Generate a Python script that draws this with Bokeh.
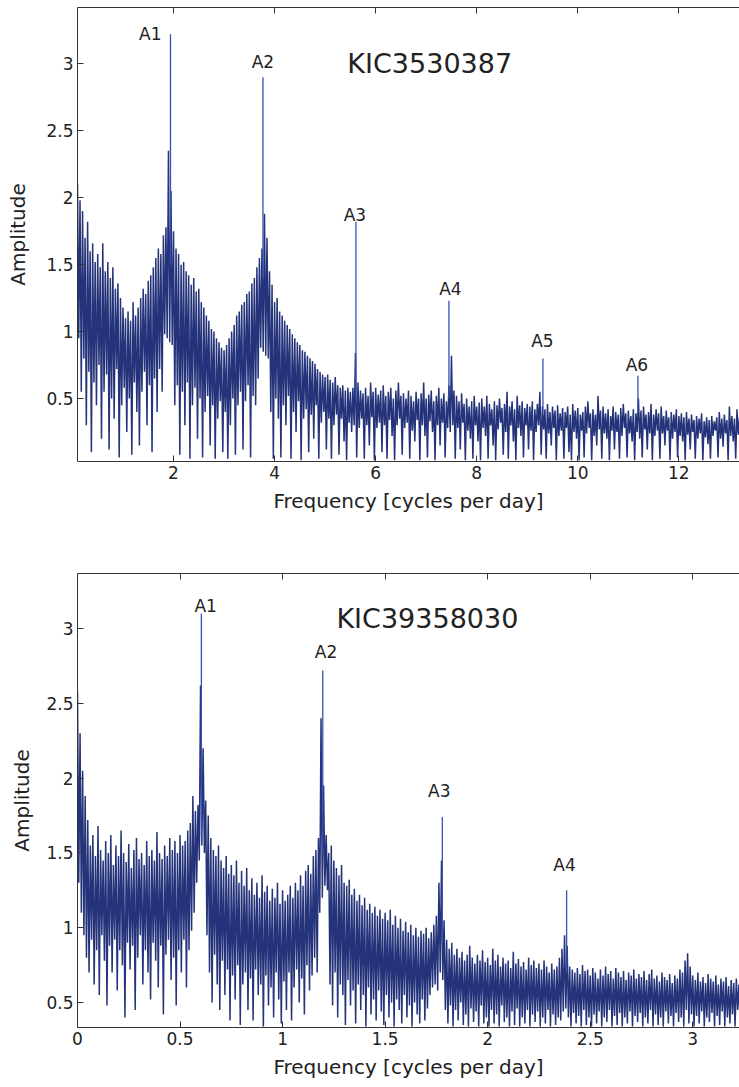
from bokeh.plotting import figure
from bokeh.models import (LinearAxis, Range1d, FixedTicker, Label,
                          NumeralTickFormatter, CustomJSTickFormatter)
from bokeh.layouts import column
from bokeh.embed import file_html
from bokeh.resources import INLINE

# ---------------- Panel 1 : KIC3530387 ----------------
p1_title = "KIC3530387"
p1_f0 = 0.10         # first frequency of the sampled grid (cycles/day)
p1_step = 0.05       # grid spacing; each step holds one high and one low sample
p1_hi = [2.10, 1.98, 1.90, 1.70, 1.82, 1.60, 1.66, 1.52, 1.58, 1.48,
         1.66, 1.45, 1.52, 1.40, 1.48, 1.32, 1.36, 1.25, 1.18, 1.10,
         1.15, 1.08, 1.22, 1.12, 1.18, 1.25, 1.32, 1.28, 1.38, 1.42,
         1.48, 1.55, 1.62, 1.58, 1.72, 1.78, 2.35, 2.05, 1.75, 1.62,
         1.58, 1.50, 1.52, 1.45, 1.42, 1.35, 1.40, 1.30, 1.32, 1.22,
         1.18, 1.12, 1.08, 1.02, 1.00, 0.95, 0.92, 0.88, 0.86, 0.90,
         0.95, 1.00, 1.05, 1.12, 1.15, 1.20, 1.22, 1.28, 1.30, 1.36,
         1.40, 1.48, 1.55, 1.62, 1.88, 1.70, 1.45, 1.35, 1.22, 1.25,
         1.15, 1.12, 1.08, 1.05, 1.02, 0.98, 0.95, 0.92, 0.90, 0.86,
         0.85, 0.82, 0.80, 0.78, 0.76, 0.72, 0.70, 0.68, 0.66, 0.68,
         0.64, 0.62, 0.66, 0.60, 0.58, 0.60, 0.56, 0.58, 0.55, 0.58,
         0.84, 0.62, 0.56, 0.54, 0.58, 0.52, 0.62, 0.55, 0.58, 0.53,
         0.56, 0.60, 0.52, 0.55, 0.58, 0.50, 0.56, 0.62, 0.52, 0.54,
         0.50, 0.56, 0.52, 0.48, 0.55, 0.50, 0.54, 0.62, 0.50, 0.53,
         0.56, 0.48, 0.52, 0.58, 0.50, 0.54, 0.48, 0.60, 0.82, 0.56,
         0.52, 0.48, 0.54, 0.46, 0.50, 0.44, 0.48, 0.52, 0.44, 0.47,
         0.50, 0.44, 0.52, 0.46, 0.42, 0.48, 0.45, 0.50, 0.43, 0.46,
         0.55, 0.44, 0.48, 0.42, 0.52, 0.45, 0.48, 0.43, 0.46, 0.44,
         0.48, 0.42, 0.46, 0.55, 0.44, 0.42, 0.46, 0.40, 0.44, 0.41,
         0.45, 0.39, 0.43, 0.40, 0.44, 0.38, 0.46, 0.41, 0.43, 0.38,
         0.40, 0.44, 0.48, 0.39, 0.42, 0.38, 0.52, 0.41, 0.44, 0.39,
         0.42, 0.37, 0.44, 0.40, 0.38, 0.43, 0.46, 0.39, 0.41, 0.37,
         0.42, 0.39, 0.50, 0.41, 0.44, 0.38, 0.40, 0.46, 0.38, 0.42,
         0.39, 0.44, 0.37, 0.41, 0.36, 0.40, 0.38, 0.42, 0.37, 0.39,
         0.36, 0.40, 0.35, 0.38, 0.34, 0.37, 0.35, 0.39, 0.33, 0.36,
         0.34, 0.37, 0.33, 0.36, 0.40, 0.35, 0.38, 0.34, 0.44, 0.37,
         0.35, 0.42, 0.36, 0.39]
p1_lo = [0.95, 0.55, 0.80, 0.30, 0.70, 0.10, 0.62, 0.45, 0.75, 0.20,
         0.55, 0.68, 0.12, 0.50, 0.35, 0.72, 0.06, 0.45, 0.58, 0.25,
         0.50, 0.08, 0.62, 0.40, 0.15, 0.55, 0.70, 0.30, 0.60, 0.10,
         0.65, 0.40, 0.72, 0.55, 0.98, 0.95, 0.92, 0.90, 0.45, 0.60,
         0.08, 0.55, 0.30, 0.62, 0.05, 0.45, 0.58, 0.20, 0.50, 0.06,
         0.40, 0.52, 0.15, 0.45, 0.05, 0.35, 0.48, 0.10, 0.40, 0.05,
         0.30, 0.50, 0.08, 0.45, 0.55, 0.12, 0.48, 0.60, 0.06, 0.52,
         0.45, 0.65, 0.88, 0.85, 0.82, 0.80, 0.40, 0.05, 0.50, 0.35,
         0.06, 0.45, 0.30, 0.52, 0.05, 0.40, 0.25, 0.48, 0.04, 0.35,
         0.42, 0.10, 0.38, 0.20, 0.45, 0.05, 0.32, 0.40, 0.12, 0.35,
         0.05, 0.30, 0.38, 0.08, 0.35, 0.18, 0.04, 0.32, 0.25, 0.30,
         0.06, 0.28, 0.35, 0.05, 0.30, 0.15, 0.36, 0.04, 0.28, 0.32,
         0.10, 0.30, 0.05, 0.34, 0.22, 0.04, 0.30, 0.35, 0.08, 0.28,
         0.32, 0.05, 0.26, 0.18, 0.34, 0.04, 0.30, 0.22, 0.06, 0.33,
         0.25, 0.04, 0.30, 0.15, 0.32, 0.06, 0.28, 0.25, 0.30, 0.05,
         0.28, 0.12, 0.32, 0.04, 0.26, 0.20, 0.05, 0.30, 0.18, 0.04,
         0.28, 0.22, 0.05, 0.30, 0.15, 0.04, 0.27, 0.32, 0.08, 0.25,
         0.05, 0.30, 0.18, 0.04, 0.28, 0.22, 0.06, 0.30, 0.12, 0.26,
         0.04, 0.25, 0.30, 0.08, 0.27, 0.05, 0.24, 0.15, 0.28, 0.04,
         0.22, 0.26, 0.05, 0.28, 0.10, 0.04, 0.25, 0.20, 0.04, 0.26,
         0.06, 0.24, 0.28, 0.04, 0.22, 0.15, 0.27, 0.05, 0.24, 0.20,
         0.04, 0.26, 0.12, 0.25, 0.05, 0.22, 0.28, 0.06, 0.24, 0.18,
         0.04, 0.25, 0.20, 0.06, 0.27, 0.12, 0.24, 0.04, 0.22, 0.26,
         0.05, 0.24, 0.15, 0.26, 0.04, 0.20, 0.25, 0.06, 0.22, 0.18,
         0.04, 0.23, 0.12, 0.25, 0.05, 0.20, 0.24, 0.04, 0.21, 0.16,
         0.05, 0.22, 0.26, 0.06, 0.20, 0.14, 0.24, 0.04, 0.22, 0.18,
         0.05, 0.23, 0.12, 0.20]
p1_peak_names = ["A1", "A2", "A3", "A4", "A5", "A6"]
p1_peak_freq = [1.94, 3.77, 5.61, 7.45, 9.31, 11.19]
p1_peak_amp = [3.22, 2.90, 1.82, 1.23, 0.80, 0.67]
p1_peak_base = [1.50, 1.40, 0.50, 0.50, 0.40, 0.40]
p1_label_freq = [1.54, 3.77, 5.59, 7.48, 9.30, 11.17]
p1_label_amp = [3.22, 3.01, 1.87, 1.32, 0.93, 0.75]
p1_title_pos = (7.07, 3.00)
p1_xticks = [2, 4, 6, 8, 10, 12]
p1_yticks = [0.5, 1, 1.5, 2, 2.5, 3]
p1_xlim = (0.1, 13.2)
p1_ylim = (0.03, 3.42)

# ---------------- Panel 2 : KIC39358030 ----------------
p2_title = "KIC39358030"
p2_f0 = 0.0
p2_step = 0.0125
p2_hi = [2.58, 2.30, 2.05, 1.88, 1.72, 1.55, 1.62, 1.48, 1.68, 1.52, 1.45, 1.58, 1.50, 1.62, 1.42, 1.55, 1.48, 1.65, 1.50, 1.44,
         1.56, 1.40, 1.52, 1.60, 1.46, 1.50, 1.42, 1.58, 1.48, 1.52, 1.45, 1.64, 1.50, 1.46, 1.55, 1.48, 1.60, 1.52, 1.58, 1.50,
         1.62, 1.55, 1.58, 1.65, 1.70, 1.88, 1.78, 1.82, 2.62, 2.20, 1.85, 1.75, 1.60, 1.52, 1.48, 1.55, 1.45, 1.40, 1.48, 1.36,
         1.42, 1.35, 1.45, 1.30, 1.38, 1.28, 1.40, 1.25, 1.33, 1.22, 1.30, 1.20, 1.35, 1.24, 1.28, 1.18, 1.26, 1.20, 1.30, 1.16,
         1.25, 1.18, 1.22, 1.28, 1.20, 1.30, 1.25, 1.35, 1.28, 1.38, 1.42, 1.36, 1.48, 1.52, 1.60, 2.40, 1.95, 1.62, 1.50, 1.55,
         1.45, 1.40, 1.35, 1.42, 1.30, 1.28, 1.32, 1.22, 1.26, 1.18, 1.22, 1.15, 1.20, 1.12, 1.16, 1.10, 1.14, 1.08, 1.12, 1.06,
         1.10, 1.05, 1.12, 1.02, 1.08, 1.00, 1.06, 0.98, 1.04, 0.97, 1.02, 0.95, 1.00, 0.94, 0.98, 0.96, 1.00, 0.93, 0.97, 1.02,
         1.08, 1.30, 1.45, 1.05, 0.92, 0.86, 0.90, 0.82, 0.86, 0.80, 0.84, 0.78, 0.82, 0.88, 0.80, 0.76, 0.82, 0.78, 0.85, 0.77,
         0.80, 0.75, 0.86, 0.78, 0.82, 0.74, 0.80, 0.76, 0.78, 0.73, 0.84, 0.76, 0.79, 0.74, 0.77, 0.72, 0.80, 0.75, 0.78, 0.73,
         0.76, 0.72, 0.78, 0.74, 0.70, 0.76, 0.72, 0.74, 0.80, 0.86, 0.95, 0.88, 0.74, 0.72, 0.70, 0.73, 0.69, 0.75, 0.71, 0.72,
         0.68, 0.73, 0.70, 0.66, 0.72, 0.68, 0.74, 0.69, 0.71, 0.66, 0.73, 0.70, 0.67, 0.71, 0.65, 0.70, 0.68, 0.72, 0.66, 0.69,
         0.67, 0.71, 0.65, 0.69, 0.72, 0.66, 0.68, 0.64, 0.70, 0.67, 0.65, 0.69, 0.63, 0.68, 0.66, 0.72, 0.70, 0.78, 0.83, 0.74,
         0.68, 0.65, 0.70, 0.64, 0.67, 0.63, 0.69, 0.66, 0.64, 0.68, 0.62, 0.66, 0.64, 0.67, 0.61, 0.65, 0.63, 0.66, 0.62, 0.64,
         0.63]
p2_lo = [1.30, 1.10, 0.95, 0.80, 0.70, 0.92, 0.62, 0.85, 0.55, 0.95, 0.78, 0.48, 0.88, 0.70, 0.92, 0.58, 0.85, 0.75, 0.40, 0.90,
         0.72, 0.88, 0.45, 0.80, 0.95, 0.62, 0.85, 0.70, 0.52, 0.90, 0.78, 0.60, 0.88, 0.42, 0.82, 0.92, 0.65, 0.80, 0.48, 0.85,
         0.70, 0.92, 0.60, 0.85, 0.98, 1.10, 1.30, 1.45, 1.55, 1.50, 0.95, 0.70, 0.50, 0.82, 0.62, 0.45, 0.78, 0.55, 0.72, 0.38,
         0.68, 0.52, 0.75, 0.35, 0.62, 0.70, 0.45, 0.66, 0.38, 0.72, 0.55, 0.62, 0.34, 0.68, 0.48, 0.60, 0.40, 0.70, 0.52, 0.36,
         0.64, 0.45, 0.70, 0.38, 0.60, 0.72, 0.50, 0.66, 0.42, 0.75, 0.58, 0.68, 0.80, 0.70, 1.10, 1.20, 1.28, 1.25, 0.62, 0.48,
         0.70, 0.40, 0.62, 0.55, 0.35, 0.65, 0.48, 0.58, 0.36, 0.62, 0.45, 0.55, 0.34, 0.60, 0.42, 0.52, 0.38, 0.58, 0.44, 0.35,
         0.55, 0.40, 0.50, 0.34, 0.52, 0.45, 0.36, 0.55, 0.40, 0.48, 0.34, 0.50, 0.42, 0.36, 0.52, 0.38, 0.46, 0.55, 0.60, 0.62,
         0.58, 0.70, 0.65, 0.45, 0.36, 0.48, 0.34, 0.45, 0.38, 0.50, 0.35, 0.42, 0.34, 0.46, 0.37, 0.44, 0.34, 0.48, 0.36, 0.40,
         0.34, 0.45, 0.36, 0.42, 0.34, 0.48, 0.37, 0.40, 0.34, 0.44, 0.35, 0.46, 0.34, 0.40, 0.36, 0.45, 0.34, 0.42, 0.37, 0.44,
         0.34, 0.40, 0.36, 0.45, 0.34, 0.42, 0.35, 0.40, 0.38, 0.44, 0.46, 0.40, 0.34, 0.43, 0.36, 0.41, 0.34, 0.45, 0.35, 0.40,
         0.34, 0.42, 0.36, 0.44, 0.34, 0.40, 0.37, 0.45, 0.34, 0.41, 0.35, 0.43, 0.34, 0.40, 0.36, 0.44, 0.34, 0.41, 0.37, 0.43,
         0.34, 0.40, 0.36, 0.45, 0.34, 0.42, 0.35, 0.40, 0.34, 0.44, 0.36, 0.41, 0.34, 0.43, 0.37, 0.40, 0.34, 0.45, 0.36, 0.42,
         0.34, 0.41, 0.36, 0.44, 0.34, 0.40, 0.37, 0.43, 0.34, 0.41, 0.35, 0.44, 0.34, 0.40, 0.36, 0.42, 0.34, 0.45, 0.35, 0.41,
         0.36]
p2_peak_names = ["A1", "A2", "A3", "A4"]
p2_peak_freq = [0.604, 1.196, 1.779, 2.385]
p2_peak_amp = [3.10, 2.72, 1.74, 1.25]
p2_peak_base = [1.60, 1.50, 0.90, 0.70]
p2_label_freq = [0.625, 1.212, 1.764, 2.375]
p2_label_amp = [3.154, 2.84, 1.917, 1.416]
p2_title_pos = (1.706, 3.07)
p2_xticks = [0, 0.5, 1, 1.5, 2, 2.5, 3]
p2_yticks = [0.5, 1, 1.5, 2, 2.5, 3]
p2_xlim = (0.0, 3.228)
p2_ylim = (0.333, 3.368)

X_LABEL = "Frequency [cycles per day]"
Y_LABEL = "Amplitude"

BODY = "#25347a"
PEAK = "#3651b4"
INK = "#222222"
AXIS = "#333333"
FONT = "DejaVu Sans"


def panel(title, f0, step, hi, lo, pk_f, pk_a, pk_b, names, lab_f, lab_a,
          title_pos, xticks, yticks, xlim, ylim, height, bl, bt, bb, ylab_off):
    n = min(len(hi), len(lo))
    xs, ys = [], []
    for i in range(n):
        f = f0 + step * i
        xs += [f, f + step / 2]
        ys += [hi[i], lo[i]]

    p = figure(width=739, height=height, output_backend="svg",
               toolbar_location=None,
               x_range=Range1d(*xlim), y_range=Range1d(*ylim),
               min_border_left=bl, min_border_right=0,
               min_border_top=bt, min_border_bottom=bb)
    p.outline_line_color = None
    p.xgrid.visible = False
    p.ygrid.visible = False
    p.background_fill_color = "white"
    p.border_fill_color = "white"

    p.line(xs, ys, line_color=BODY, line_width=1.5)
    p.segment(x0=pk_f, y0=pk_b, x1=pk_f, y1=pk_a, line_color=PEAK, line_width=1.3)

    for ax, ticks in ((p.xaxis[0], xticks), (p.yaxis[0], yticks)):
        ax.ticker = FixedTicker(ticks=ticks)
        ax.formatter = NumeralTickFormatter(format="0.[0]")
        ax.major_tick_in = 6
        ax.major_tick_out = 0
        ax.minor_tick_in = 0
        ax.minor_tick_out = 0
        ax.axis_line_color = AXIS
        ax.major_tick_line_color = AXIS
        ax.major_label_text_font = FONT
        ax.major_label_text_font_size = "17px"
        ax.major_label_text_color = INK
        ax.axis_label_text_font = FONT
        ax.axis_label_text_font_size = "20px"
        ax.axis_label_text_font_style = "normal"
        ax.axis_label_text_color = INK
        ax.major_label_standoff = 4
    p.xaxis.axis_label = X_LABEL
    p.yaxis.axis_label = Y_LABEL
    p.xaxis.axis_label_standoff = 7
    p.yaxis.axis_label_standoff = ylab_off

    top = LinearAxis(ticker=FixedTicker(ticks=xticks),
                     formatter=CustomJSTickFormatter(code="return ''"),
                     major_label_text_font_size="1px",
                     major_label_standoff=0,
                     major_tick_in=6, major_tick_out=0,
                     minor_tick_in=0, minor_tick_out=0,
                     axis_line_color=AXIS, major_tick_line_color=AXIS)
    p.add_layout(top, "above")

    for name, lf, la in zip(names, lab_f, lab_a):
        p.add_layout(Label(x=lf, y=la, text=name, text_align="center",
                           text_baseline="alphabetic", text_font=FONT,
                           text_font_size="17px", text_color=INK))
    p.add_layout(Label(x=title_pos[0], y=title_pos[1], text=title,
                       text_align="center", text_baseline="alphabetic",
                       text_font=FONT, text_font_size="27px", text_color=INK))
    return p


p1 = panel(p1_title, p1_f0, p1_step, p1_hi, p1_lo, p1_peak_freq, p1_peak_amp,
           p1_peak_base, p1_peak_names, p1_label_freq, p1_label_amp,
           p1_title_pos, p1_xticks, p1_yticks, p1_xlim, p1_ylim,
           height=521, bl=77, bt=7, bb=60, ylab_off=13)
p2 = panel(p2_title, p2_f0, p2_step, p2_hi, p2_lo, p2_peak_freq, p2_peak_amp,
           p2_peak_base, p2_peak_names, p2_label_freq, p2_label_amp,
           p2_title_pos, p2_xticks, p2_yticks, p2_xlim, p2_ylim,
           height=564, bl=73, bt=52, bb=58, ylab_off=9)

layout = column(p1, p2)
open("out.html", "w").write(file_html(layout, INLINE))
